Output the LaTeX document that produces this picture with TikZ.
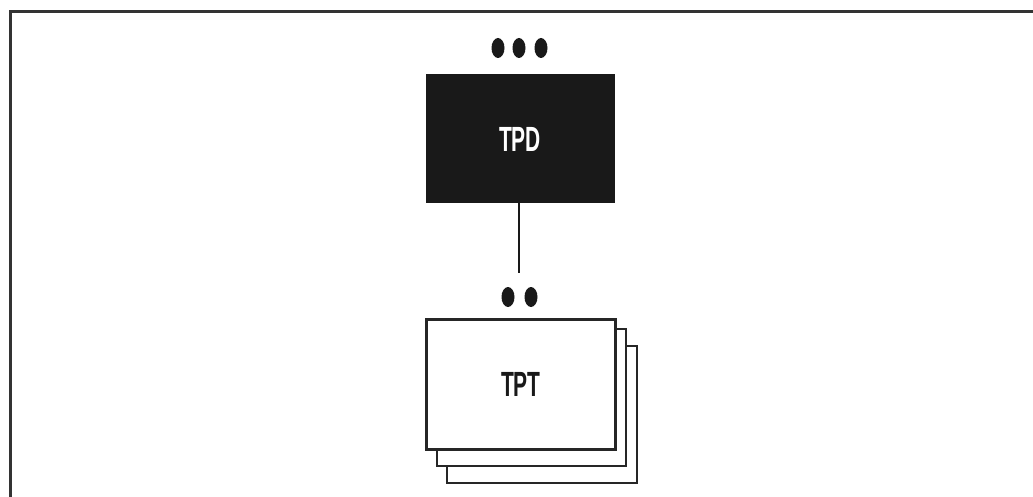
\documentclass[tikz,border=0pt]{standalone}
\usepackage{fontspec}
\usetikzlibrary{shapes.geometric}
\newfontfamily\condfont[FakeStretch=0.6]{Liberation Sans}
\begin{document}
\begin{tikzpicture}[x=1pt,y=-1pt,
  frameline/.style={line width=3pt,draw=black!80},
  boxline/.style={line width=2.8pt,draw=black!85},
  dot/.style={ellipse,fill=black!90,minimum width=13pt,minimum height=20pt,inner sep=0pt},
  lbl/.style={font=\condfont\bfseries\fontsize{35}{35}\selectfont}]
\useasboundingbox (0,0) rectangle (1033,497);
\fill[white] (0,0) rectangle (1033,497);
% frame (only top and left visible)
\draw[frameline] (1040,12) -- (10,12) -- (10,505);
% TPD box
\node[draw=black!90,fill=black!90,line width=1pt,minimum width=188pt,minimum height=128pt,inner sep=0pt,anchor=north west,text=white,lbl] (tpd) at (425.5,74.5) {TPD};
% three dots
\node[dot] (d1) at (498,48) {};
\node[dot] (d2) at (519,48) {};
\node[dot] (d3) at (541,48) {};
% stacked TPT boxes
\draw[boxline,fill=white] (447,346) rectangle (637,483);
\draw[boxline,fill=white] (437,329) rectangle (626,466);
\node[boxline,fill=white,minimum width=189pt,minimum height=130pt,inner sep=0pt,anchor=north west,lbl,text=black!90] (tpt) at (425,318) {TPT};
% connector
\coordinate (lend) at (519,273);
\draw[line width=1.6pt,black!90] (tpd.south -| lend) -- (lend);
% two dots
\node[dot] (e1) at (508,297) {};
\node[dot] (e2) at (531,297) {};
\end{tikzpicture}
\end{document}
